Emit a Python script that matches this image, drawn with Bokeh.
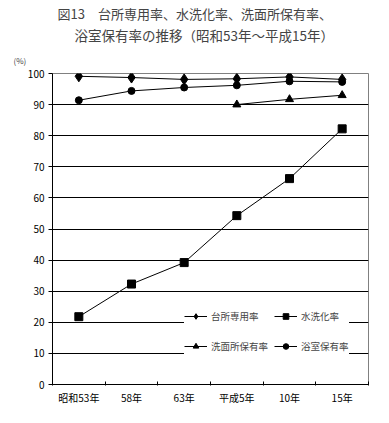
from bokeh.plotting import figure
from bokeh.models import Range1d, FixedTicker, Title, Legend, LegendItem
from bokeh.embed import file_html
from bokeh.resources import INLINE

categories = ["昭和53年", "58年", "63年", "平成5年", "10年", "15年"]
kitchen = [99.1, 98.7, 98.1, 98.3, 98.9, 98.1]
flush = [21.8, 32.3, 39.2, 54.3, 66.2, 82.2]
washroom_cats = ["平成5年", "10年", "15年"]
washroom = [90.0, 91.7, 93.0]
bath = [91.4, 94.4, 95.5, 96.2, 97.5, 97.3]
series_names = ["台所専用率", "水洗化率", "洗面所保有率", "浴室保有率"]
y_ticks = list(range(0, 101, 10))
title1 = "図13　台所専用率、水洗化率、洗面所保有率、"
title2 = "浴室保有率の推移（昭和53年～平成15年）"
unit = "(%)"

FONT = "Noto Sans CJK JP"

xc = [i + 0.5 for i in range(len(categories))]
xw = [categories.index(c) + 0.5 for c in washroom_cats]

p = figure(width=372, height=415, x_range=Range1d(0, len(categories)),
           y_range=Range1d(0, 100), output_backend="svg", toolbar_location=None,
           min_border_left=52, min_border_right=4, min_border_bottom=31,
           min_border_top=73, title=None)
p.background_fill_color = "white"
p.border_fill_color = "white"
p.outline_line_color = "#808080"
p.outline_line_width = 1

# titles (first added is closest to the frame)
p.add_layout(Title(text=unit, text_font=FONT, text_font_size="8px", text_font_style="normal",
                   align="left", offset=-39, standoff=16), "above")
p.add_layout(Title(text=title2, text_font=FONT, text_font_size="13.5px", text_font_style="normal",
                   align="left", offset=22, standoff=0), "above")
p.add_layout(Title(text=title1, text_font=FONT, text_font_size="13px", text_font_style="normal",
                   align="left", offset=5, standoff=0), "above")

# axes
p.xaxis.ticker = FixedTicker(ticks=xc, minor_ticks=list(range(len(categories) + 1)))
p.xaxis.major_label_overrides = {x: c for x, c in zip(xc, categories)}
p.xaxis.major_tick_out = 0
p.xaxis.major_tick_in = 0
p.xaxis.minor_tick_in = 3
p.xaxis.minor_tick_out = 1
p.xaxis.minor_tick_line_color = "black"
p.xaxis.axis_line_color = "black"
p.xaxis.major_label_text_font = FONT
p.xaxis.major_label_text_font_size = "10px"
p.xaxis.major_label_text_color = "black"
p.xaxis.major_label_standoff = 4

p.yaxis.ticker = FixedTicker(ticks=y_ticks, minor_ticks=[])
p.yaxis.major_tick_out = 4
p.yaxis.major_tick_in = 0
p.yaxis.major_tick_line_color = "black"
p.yaxis.axis_line_color = "black"
p.yaxis.major_label_text_font = FONT
p.yaxis.major_label_text_font_size = "10px"
p.yaxis.major_label_text_color = "black"
p.yaxis.major_label_standoff = 4

p.xgrid.visible = False
p.ygrid.ticker = FixedTicker(ticks=y_ticks[1:-1])
p.ygrid.grid_line_color = "black"
p.ygrid.grid_line_alpha = 1

l1 = p.line(xc, kitchen, line_color="black", line_width=1)
s1 = p.scatter(xc, kitchen, marker="diamond", size=11, color="black")
l2 = p.line(xc, flush, line_color="black", line_width=1)
s2 = p.scatter(xc, flush, marker="square", size=8, color="black")
l3 = p.line(xw, washroom, line_color="black", line_width=1)
s3 = p.scatter(xw, washroom, marker="triangle", size=8, color="black")
l4 = p.line(xc, bath, line_color="black", line_width=1)
s4 = p.scatter(xc, bath, marker="circle", size=7, color="black")

legend = Legend(items=[
    LegendItem(label=series_names[0], renderers=[l1, s1]),
    LegendItem(label=series_names[1], renderers=[l2, s2]),
    LegendItem(label=series_names[2], renderers=[l3, s3]),
    LegendItem(label=series_names[3], renderers=[l4, s4]),
], location=(132, 26), orientation="horizontal", nrows=2)
legend.label_text_font = FONT
legend.label_text_font_size = "9.5px"
legend.glyph_width = 23
legend.glyph_height = 14
legend.label_height = 24
legend.label_standoff = 4
legend.spacing = 6
legend.padding = 3
legend.margin = 0
legend.border_line_color = None
legend.background_fill_color = "white"
legend.background_fill_alpha = 1
p.add_layout(legend)

open("out.html", "w").write(file_html(p, INLINE))
